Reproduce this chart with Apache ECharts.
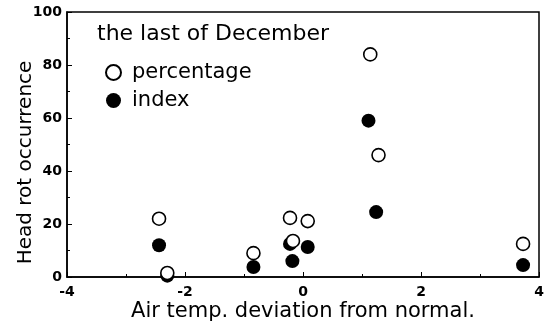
<!DOCTYPE html>
<html><head><meta charset="utf-8">
<script src="https://cdn.jsdelivr.net/npm/echarts@6/dist/echarts.min.js"></script>
<style>html,body{margin:0;padding:0;background:#fff}#c{width:551px;height:330px}</style>
</head><body><div id="c"></div>
<script>
const percentageX = [-2.44, -2.30, -0.84, -0.22, -0.17, 0.08, 1.14, 1.28, 3.73];
const percentageY = [22, 1.5, 9, 22.3, 13.6, 21.1, 84, 46, 12.5];
const indexX = [-2.44, -2.30, -0.84, -0.22, -0.18, 0.08, 1.11, 1.24, 3.73];
const indexY = [12, 0.5, 3.8, 12.5, 6, 11.3, 59, 24.5, 4.5];
const xTicks = [-4, -2, 0, 2, 4];
const yTicks = [0, 20, 40, 60, 80, 100];
const legendTitle = 'the last of December';
const seriesNames = ['percentage', 'index'];

const chart = echarts.init(document.getElementById('c'), null, {renderer: 'canvas'});
const tickFont = {fontFamily: 'DejaVu Sans', fontWeight: 'bold', fontSize: 14, color: '#000'};
chart.setOption({
  animation: false,
  grid: {left: 67, right: 12, top: 12, bottom: 53, containLabel: false, outerBoundsMode: 'none',
         show: true, borderColor: '#000', borderWidth: 1.5},
  title: {text: legendTitle, left: 92, top: 18, textStyle: {fontFamily: 'DejaVu Sans', fontWeight: 'normal', fontSize: 22, color: '#000'}},
  legend: {
    orient: 'vertical', left: 100, top: 57, itemGap: 7, itemWidth: 15, itemHeight: 15,
    textStyle: {fontFamily: 'DejaVu Sans', fontSize: 21, color: '#000', padding: [0, 0, 0, 6]},
    data: seriesNames
  },
  xAxis: {
    type: 'value', min: xTicks[0], max: xTicks[xTicks.length - 1], interval: 2,
    name: 'Air temp. deviation from normal.', nameLocation: 'middle', nameGap: 24, nameMoveOverlap: false,
    nameTextStyle: {fontFamily: 'DejaVu Sans', fontSize: 21, color: '#000'},
    axisLine: {onZero: false, lineStyle: {color: '#000', width: 1.5}},
    axisTick: {inside: true, length: 5, lineStyle: {color: '#000'}},
    minorTick: {show: true, splitNumber: 2, length: 3, lineStyle: {color: '#000'}},
    splitLine: {show: false},
    axisLabel: Object.assign({margin: 8}, tickFont)
  },
  yAxis: {
    type: 'value', min: yTicks[0], max: yTicks[yTicks.length - 1], interval: 20,
    name: 'Head rot occurrence', nameLocation: 'middle', nameGap: 31, nameMoveOverlap: false,
    nameTextStyle: {fontFamily: 'DejaVu Sans', fontSize: 20, color: '#000', padding: [0, 36, 0, 0]},
    axisLine: {onZero: false, lineStyle: {color: '#000', width: 1.5}},
    axisTick: {inside: true, length: 5, lineStyle: {color: '#000'}},
    minorTick: {show: true, splitNumber: 2, length: 3, lineStyle: {color: '#000'}},
    splitLine: {show: false},
    axisLabel: Object.assign({margin: 5}, tickFont)
  },
  series: [
    {
      name: seriesNames[1], type: 'scatter', symbol: 'circle', symbolSize: 14, clip: false,
      itemStyle: {color: '#000', opacity: 1},
      data: indexX.map((x, i) => [x, indexY[i]]), z: 2
    },
    {
      name: seriesNames[0], type: 'scatter', symbol: 'circle', symbolSize: 13, clip: false,
      itemStyle: {color: '#fff', opacity: 1, borderColor: '#000', borderWidth: 1.6},
      data: percentageX.map((x, i) => [x, percentageY[i]]), z: 3
    }
  ]
});
</script></body></html>
